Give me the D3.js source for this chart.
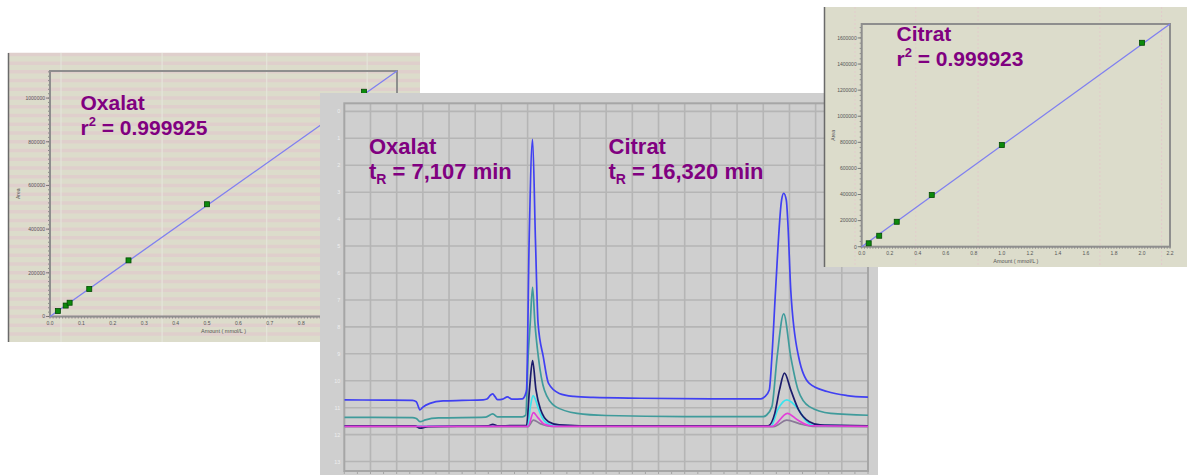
<!DOCTYPE html>
<html>
<head>
<meta charset="utf-8">
<script src="https://cdn.jsdelivr.net/npm/d3@7"></script>
<style>
    body { margin: 0; background: #ffffff; }
    svg { display: block; font-family: "Liberation Sans", Arial, sans-serif; }
</style>
</head>
<body>
<div id="chart"></div>
<script>
// ---- calibration data (amount in mmol/L, peak area) ----
const oxalatAmount = [0.025, 0.05, 0.0625, 0.125, 0.25, 0.5, 1.0];
const oxalatArea   = [25000, 50000, 63000, 126000, 257000, 514000, 1029000];
const oxalatFit    = [[0, 0], [1.105, 1124000]];
const oxalatXTicks = [0, 0.1, 0.2, 0.3, 0.4, 0.5, 0.6, 0.7, 0.8, 0.9, 1.0, 1.1];
const oxalatYTicks = [0, 200000, 400000, 600000, 800000, 1000000];
const oxalatVLines = [0.035, 0.357, 0.69, 1.01];

const citratAmount = [0.05, 0.125, 0.25, 0.5, 1.0, 2.0];
const citratArea   = [26000, 84000, 191000, 396000, 779000, 1563000];
const citratFit    = [[0, 0], [2.2, 1707000]];
const citratXTicks = [0, 0.2, 0.4, 0.6, 0.8, 1.0, 1.2, 1.4, 1.6, 1.8, 2.0, 2.2];
const citratYTicks = [0, 200000, 400000, 600000, 800000, 1000000, 1200000, 1400000, 1600000];
const citratVLines = [-0.048, 0.386, 0.83, 1.70, 2.14];

// ---- chromatogram traces [time (min), signal] ----
const blueTrace = [[0, 2.29], [1.5, 2.28], [2.6, 2.27], [2.75, 2.22], [2.89, 1.92], [3.0, 2.02], [3.27, 2.16],
    [3.77, 2.25], [4.5, 2.27], [5.3, 2.29], [5.45, 2.32], [5.6, 2.48], [5.67, 2.51], [5.75, 2.42], [5.85, 2.3],
    [6.05, 2.32], [6.23, 2.40], [6.4, 2.32], [6.8, 2.33], [6.9, 2.45], [6.96, 2.66], [7.06, 8.23], [7.19, 11.96],
    [7.30, 8.23], [7.4, 5.13], [7.6, 3.89], [7.8, 2.9], [8.21, 2.53], [8.76, 2.42], [9.5, 2.38], [11.3, 2.35],
    [14, 2.33], [15.9, 2.33], [16.05, 2.4], [16.23, 2.66], [16.33, 3.89], [16.47, 6.37], [16.70, 9.71],
    [16.78, 9.96], [16.88, 9.71], [16.94, 8.85], [17.05, 6.37], [17.35, 3.89], [17.76, 2.9], [18.44, 2.6],
    [19.2, 2.45], [20, 2.39]];
const tealTrace = [[0, 1.64], [2.6, 1.63], [2.75, 1.6], [2.89, 1.48], [3.1, 1.55], [3.6, 1.62], [5.4, 1.65],
    [5.67, 1.77], [5.85, 1.66], [6.8, 1.66], [6.93, 1.72], [7.02, 3.89], [7.1, 5.13], [7.19, 6.47], [7.28, 5.13],
    [7.41, 3.89], [7.64, 2.66], [8.07, 2.04], [8.89, 1.79], [10, 1.71], [13, 1.67], [16.0, 1.67], [16.12, 1.72],
    [16.33, 2.04], [16.53, 3.89], [16.78, 5.48], [17.05, 3.89], [17.33, 2.66], [17.76, 2.04], [18.58, 1.79],
    [20, 1.72]];
const navyTrace = [[0, 1.33], [2.7, 1.33], [2.89, 1.24], [3.2, 1.3], [5.5, 1.33], [5.67, 1.38], [5.85, 1.33],
    [6.96, 1.34], [7.07, 2.66], [7.19, 3.75], [7.32, 2.66], [7.5, 1.92], [7.8, 1.48], [8.21, 1.36], [9, 1.33],
    [16.19, 1.33], [16.44, 1.79], [16.62, 2.66], [16.81, 3.28], [17.05, 2.66], [17.35, 1.92], [17.76, 1.48],
    [18.17, 1.36], [20, 1.33]];
const cyanTrace = [[0, 1.32], [7.0, 1.32], [7.1, 2.0], [7.21, 2.45], [7.3, 2.3], [7.43, 1.92], [7.65, 1.5],
    [7.93, 1.35], [9, 1.32], [16.3, 1.32], [16.55, 1.92], [16.9, 2.29], [17.35, 1.92], [17.6, 1.55],
    [17.9, 1.35], [20, 1.32]];
const magentaTrace = [[0, 1.31], [7.02, 1.31], [7.22, 1.82], [7.4, 1.62], [7.65, 1.38], [8, 1.31],
    [16.35, 1.31], [16.92, 1.79], [17.3, 1.55], [17.8, 1.33], [20, 1.31]];
const grayTrace = [[0, 1.3], [7.02, 1.3], [7.22, 1.54], [7.5, 1.4], [7.9, 1.31], [16.4, 1.3], [16.9, 1.54],
    [17.4, 1.4], [17.9, 1.31], [20, 1.3]];

const traces = [
    { id: "gray", color: "#8a7a98", values: grayTrace },
    { id: "cyan", color: "#3ae4ee", values: cyanTrace },
    { id: "navy", color: "#1c1c6c", values: navyTrace },
    { id: "magenta", color: "#e23fd8", values: magentaTrace },
    { id: "teal", color: "#3f9b9b", values: tealTrace },
    { id: "blue", color: "#4040f2", values: blueTrace }
];
const chromXGrid = d3.range(1, 20);
const chromYGrid = d3.range(0, 14);

const purple = "#800080";
const beige = "#dcdccb";

const svg = d3.select("#chart")
    .append("svg")
        .attr("width", 1187)
        .attr("height", 475);

// ---------- calibration panel (used twice) ----------
const drawCalibration = (opts) => {
    const g = svg.append("g");
    const p = opts.panel, f = opts.frame;

    const xScale = d3.scaleLinear().domain(opts.xDomain).range([f.x0, f.x1]);
    const yScale = d3.scaleLinear().domain(opts.yDomain).range([f.y1, f.y0]);

    g.append("rect")
        .attr("x", p.x).attr("y", p.y)
        .attr("width", p.w).attr("height", p.h)
        .attr("fill", beige);

    // pink stripes behind everything (only the oxalat panel has them)
    if (opts.stripeStep) {
        const lo = yScale.invert(p.y + p.h), hi = yScale.invert(p.y);
        g.selectAll(".stripe")
            .data(d3.range(Math.ceil(lo / opts.stripeStep) * opts.stripeStep, hi, opts.stripeStep))
            .join("line")
                .attr("class", "stripe")
                .attr("x1", p.x).attr("x2", p.x + p.w)
                .attr("y1", d => yScale(d)).attr("y2", d => yScale(d))
                .attr("stroke", "#dfcfcc")
                .attr("stroke-width", 3.5);
    }

    g.selectAll(".vline")
        .data(opts.vLines)
        .join("line")
            .attr("class", "vline")
            .attr("x1", d => xScale(d)).attr("x2", d => xScale(d))
            .attr("y1", p.y).attr("y2", p.y + p.h)
            .attr("stroke", opts.vLineColor)
            .attr("stroke-width", opts.vLineWidth)
            .attr("stroke-dasharray", opts.vLineDash);

    // left border of the screenshot
    g.append("line")
        .attr("x1", p.x + 0.5).attr("x2", p.x + 0.5)
        .attr("y1", p.y).attr("y2", p.y + p.h)
        .attr("stroke", "#6a6a6a")
        .attr("stroke-width", 1.5);

    // minor + major ticks
    g.selectAll(".xminor")
        .data(d3.range(0, opts.xDomain[1] + 1e-9, opts.xMinor))
        .join("line")
            .attr("class", "xminor")
            .attr("x1", d => xScale(d)).attr("x2", d => xScale(d))
            .attr("y1", f.y1).attr("y2", f.y1 + 2)
            .attr("stroke", "#777").attr("stroke-width", 0.8);
    g.selectAll(".yminor")
        .data(d3.range(0, opts.yDomain[1], opts.yMinor))
        .join("line")
            .attr("class", "yminor")
            .attr("x1", f.x0 - 2).attr("x2", f.x0)
            .attr("y1", d => yScale(d)).attr("y2", d => yScale(d))
            .attr("stroke", "#777").attr("stroke-width", 0.8);

    g.selectAll(".xlab")
        .data(opts.xTicks)
        .join("text")
            .attr("class", "xlab")
            .attr("x", d => xScale(d))
            .attr("y", f.y1 + 8)
            .attr("text-anchor", "middle")
            .attr("fill", "#555")
            .style("font-size", "5px")
            .text(d => d3.format(".1f")(d));
    g.selectAll(".ylab")
        .data(opts.yTicks)
        .join("text")
            .attr("class", "ylab")
            .attr("x", f.x0 - 5)
            .attr("y", d => yScale(d) + 1.8)
            .attr("text-anchor", "end")
            .attr("fill", "#555")
            .style("font-size", "5px")
            .text(d => d);
    g.selectAll(".ymajor")
        .data(opts.yTicks)
        .join("line")
            .attr("class", "ymajor")
            .attr("x1", f.x0 - 4).attr("x2", f.x0)
            .attr("y1", d => yScale(d)).attr("y2", d => yScale(d))
            .attr("stroke", "#666").attr("stroke-width", 0.8);

    g.append("text")
        .attr("transform", `translate(${opts.areaLabelX}, ${(f.y0 + f.y1) / 2}) rotate(-90)`)
        .attr("text-anchor", "middle")
        .attr("fill", "#555")
        .style("font-size", "5px")
        .text("Area");
    g.append("text")
        .attr("x", (f.x0 + f.x1) / 2)
        .attr("y", f.y1 + 16)
        .attr("text-anchor", "middle")
        .attr("fill", "#555")
        .style("font-size", "5.5px")
        .text("Amount ( mmol/L )");

    // plot frame
    g.append("rect")
        .attr("x", f.x0).attr("y", f.y0)
        .attr("width", f.x1 - f.x0).attr("height", f.y1 - f.y0)
        .attr("fill", "none")
        .attr("stroke", "#8e8e8e")
        .attr("stroke-width", 2);

    // regression line + standards
    g.append("path")
        .datum(opts.fit)
        .attr("d", d3.line().x(d => xScale(d[0])).y(d => yScale(d[1])))
        .attr("stroke", "#7f7ff0")
        .attr("stroke-width", 1.3)
        .attr("fill", "none");

    g.selectAll(".std")
        .data(opts.amounts.map((a, i) => ({ amount: a, area: opts.areas[i] })))
        .join("rect")
            .attr("class", "std")
            .attr("x", d => xScale(d.amount) - 2.5)
            .attr("y", d => yScale(d.area) - 2.5)
            .attr("width", 5).attr("height", 5)
            .attr("fill", "#0c8a0c")
            .attr("stroke", "#044a04")
            .attr("stroke-width", 0.8);

    const title = g.append("g")
        .attr("fill", purple)
        .style("font-weight", 700)
        .style("font-size", "21px");
    title.append("text")
        .attr("x", opts.titleX).attr("y", opts.titleY)
        .text(opts.name);
    const r2 = title.append("text")
        .attr("x", opts.titleX).attr("y", opts.titleY + 24.5);
    r2.append("tspan").text("r");
    r2.append("tspan").attr("dy", -9).style("font-size", "13px").text("2");
    r2.append("tspan").attr("dy", 9).text(" = " + opts.r2);
};

// ---------- left: oxalat calibration ----------
drawCalibration({
    name: "Oxalat", r2: "0.999925",
    panel: { x: 8, y: 53, w: 412, h: 289 },
    frame: { x0: 50, x1: 397, y0: 71, y1: 316.5 },
    xDomain: [0, 1.105], yDomain: [0, 1124000],
    xTicks: oxalatXTicks, yTicks: oxalatYTicks,
    xMinor: 0.01, yMinor: 20000,
    stripeStep: 40000,
    vLines: oxalatVLines, vLineColor: "#e4e4da", vLineWidth: 1.2, vLineDash: null,
    fit: oxalatFit, amounts: oxalatAmount, areas: oxalatArea,
    titleX: 80.5, titleY: 110, areaLabelX: 20
});

// ---------- middle: chromatogram ----------
const chrom = svg.append("g");
const cf = { x0: 344.3, x1: 868, y0: 103.3, y1: 471 };
const tScale = d3.scaleLinear().domain([0, 20]).range([cf.x0, cf.x1]);
const sScale = d3.scaleLinear().domain([-0.35, 13.3]).range([cf.y1, cf.y0]);

chrom.append("rect")
    .attr("x", 320).attr("y", 93)
    .attr("width", 558).attr("height", 382)
    .attr("fill", "#cfcfcf");

chrom.selectAll(".vgrid")
    .data(chromXGrid)
    .join("line")
        .attr("class", "vgrid")
        .attr("x1", d => tScale(d)).attr("x2", d => tScale(d))
        .attr("y1", cf.y0).attr("y2", cf.y1)
        .attr("stroke", "#b5b5b5")
        .attr("stroke-width", 1.6);
chrom.selectAll(".hgrid")
    .data(chromYGrid)
    .join("line")
        .attr("class", "hgrid")
        .attr("x1", cf.x0).attr("x2", cf.x1)
        .attr("y1", d => sScale(d)).attr("y2", d => sScale(d))
        .attr("stroke", "#b5b5b5")
        .attr("stroke-width", 1.6);

chrom.selectAll(".ylab")
    .data(chromYGrid)
    .join("text")
        .attr("class", "ylab")
        .attr("x", cf.x0 - 4)
        .attr("y", d => sScale(d) + 2)
        .attr("text-anchor", "end")
        .attr("fill", "#eeeeee")
        .style("font-size", "5.5px")
        .text(d => 13 - d);

chrom.selectAll(".xtick")
    .data(d3.range(0, 20.01, 0.5))
    .join("line")
        .attr("class", "xtick")
        .attr("x1", d => tScale(d)).attr("x2", d => tScale(d))
        .attr("y1", cf.y1).attr("y2", cf.y1 + 3)
        .attr("stroke", "#a5a5a5");

chrom.append("rect")
    .attr("x", cf.x0).attr("y", cf.y0)
    .attr("width", cf.x1 - cf.x0).attr("height", cf.y1 - cf.y0)
    .attr("fill", "none")
    .attr("stroke", "#a6a6a6")
    .attr("stroke-width", 2);

chrom.append("clipPath")
    .attr("id", "chromClip")
    .append("rect")
        .attr("x", cf.x0).attr("y", cf.y0)
        .attr("width", cf.x1 - cf.x0).attr("height", cf.y1 - cf.y0);

const traceLine = d3.line()
    .x(d => tScale(d[0]))
    .y(d => sScale(d[1]))
    .curve(d3.curveMonotoneX);

chrom.append("g")
    .attr("clip-path", "url(#chromClip)")
    .selectAll("path")
    .data(traces)
    .join("path")
        .attr("d", d => traceLine(d.values))
        .attr("fill", "none")
        .attr("stroke", d => d.color)
        .attr("stroke-width", 1.7)
        .attr("stroke-linejoin", "round");

const peakLabels = chrom.append("g")
    .attr("fill", purple)
    .style("font-weight", 700)
    .style("font-size", "22px");

const addPeakLabel = (x, name, rt) => {
    peakLabels.append("text").attr("x", x).attr("y", 154).text(name);
    const t = peakLabels.append("text").attr("x", x).attr("y", 178.5);
    t.append("tspan").text("t");
    t.append("tspan").attr("dy", 5).style("font-size", "14px").text("R");
    t.append("tspan").attr("dy", -5).text(" = " + rt);
};
addPeakLabel(369, "Oxalat", "7,107 min");
addPeakLabel(608.5, "Citrat", "16,320 min");

// ---------- right: citrat calibration ----------
drawCalibration({
    name: "Citrat", r2: "0.999923",
    panel: { x: 824, y: 7, w: 363, h: 260 },
    frame: { x0: 861.7, x1: 1170, y0: 24, y1: 246.7 },
    xDomain: [0, 2.2], yDomain: [0, 1707000],
    xTicks: citratXTicks, yTicks: citratYTicks,
    xMinor: 0.02, yMinor: 40000,
    stripeStep: null,
    vLines: citratVLines, vLineColor: "#e3c6cc", vLineWidth: 0.8, vLineDash: "2,2",
    fit: citratFit, amounts: citratAmount, areas: citratArea,
    titleX: 896.5, titleY: 41, areaLabelX: 835
});
</script>
</body>
</html>
